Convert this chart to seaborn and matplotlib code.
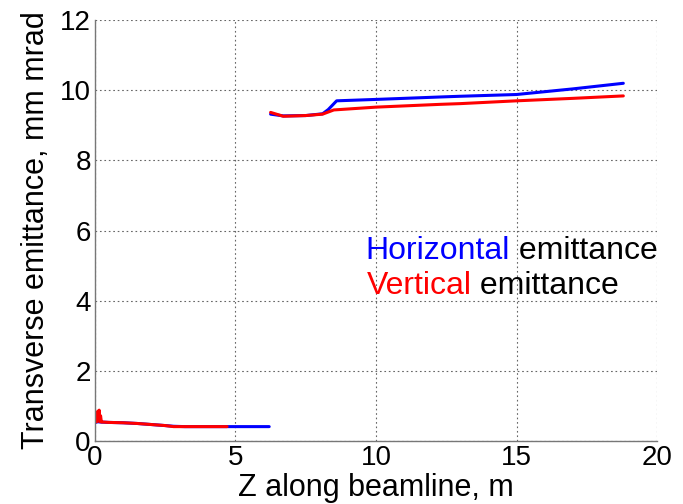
import matplotlib
matplotlib.use("Agg")
import matplotlib.pyplot as plt
import seaborn as sns
import pandas as pd

# Low-energy section (0 - 6.2 m)
z_low_h = [0.0, 0.05, 0.1, 0.2, 0.5, 1.0, 1.5, 2.0, 2.5, 2.8, 3.2, 4.0, 4.7, 5.5, 6.2]
eps_low_h = [0.52, 0.54, 0.55, 0.54, 0.53, 0.52, 0.50, 0.47, 0.44, 0.42, 0.41, 0.41, 0.41, 0.41, 0.41]
z_low_v = [0.0, 0.05, 0.08, 0.1, 0.12, 0.15, 0.18, 0.2, 0.23, 0.3, 0.5, 1.0, 1.5, 2.0, 2.5, 2.8, 3.2, 4.0, 4.7]
eps_low_v = [0.52, 0.70, 0.55, 0.85, 0.60, 0.88, 0.55, 0.72, 0.54, 0.54, 0.53, 0.52, 0.50, 0.47, 0.44, 0.41, 0.41, 0.41, 0.41]

# High-energy section (6.2 - 18.8 m)
z_high_h = [6.25, 6.7, 7.5, 8.1, 8.3, 8.6, 10.0, 12.3, 13.0, 15.0, 17.0, 18.8]
eps_high_h = [9.32, 9.27, 9.28, 9.33, 9.45, 9.70, 9.74, 9.81, 9.83, 9.88, 10.04, 10.20]
z_high_v = [6.25, 6.7, 7.5, 8.1, 8.5, 10.0, 12.3, 13.0, 15.0, 17.0, 18.8]
eps_high_v = [9.37, 9.26, 9.28, 9.32, 9.44, 9.52, 9.60, 9.62, 9.70, 9.77, 9.84]

x_ticks = [0, 5, 10, 15, 20]
y_ticks = [0, 2, 4, 6, 8, 10, 12]

sns.set_theme(style="white")
plt.rcParams["font.family"] = ["Liberation Sans", "DejaVu Sans"]

fig, ax = plt.subplots(figsize=(6.83, 5.04), dpi=100)
fig.subplots_adjust(left=0.139, right=0.962, top=0.960, bottom=0.125)

segments = [
    (z_low_h, eps_low_h, "#0000ff"),
    (z_high_h, eps_high_h, "#0000ff"),
    (z_low_v, eps_low_v, "#ff0000"),
    (z_high_v, eps_high_v, "#ff0000"),
]
for z, eps, col in segments:
    df = pd.DataFrame({"z": z, "eps": eps})
    sns.lineplot(data=df, x="z", y="eps", ax=ax, color=col, linewidth=2.2,
                 sort=False, estimator=None)

ax.set_xlim(0, 20)
ax.set_ylim(0, 12)
ax.set_xticks(x_ticks)
ax.set_yticks(y_ticks)
ax.grid(True, linestyle=(0, (1.5, 2.5)), color="#666666", linewidth=0.8)
for side in ["top", "right"]:
    ax.spines[side].set_visible(False)
for side in ["left", "bottom"]:
    ax.spines[side].set_color("#777777")
    ax.spines[side].set_linewidth(1.0)
ax.tick_params(direction="in", length=4, color="#777777", labelsize=20, pad=3,
               labelcolor="black")

ax.set_xlabel("Z along beamline, m", fontsize=22, labelpad=1, color="black")
ax.set_ylabel("Transverse emittance, mm mrad", fontsize=22, labelpad=6, color="black")

t1 = ax.text(9.62, 5.18, "Horizontal", color="#0000ff", fontsize=23, va="baseline")
ax.annotate(" emittance", xy=(1, 0), xycoords=t1, va="bottom", ha="left",
            fontsize=23, color="black")
t2 = ax.text(9.66, 4.18, "Vertical", color="#ff0000", fontsize=23, va="baseline")
ax.annotate(" emittance", xy=(1, 0), xycoords=t2, va="bottom", ha="left",
            fontsize=23, color="black")

fig.savefig("out.png", dpi=100)
